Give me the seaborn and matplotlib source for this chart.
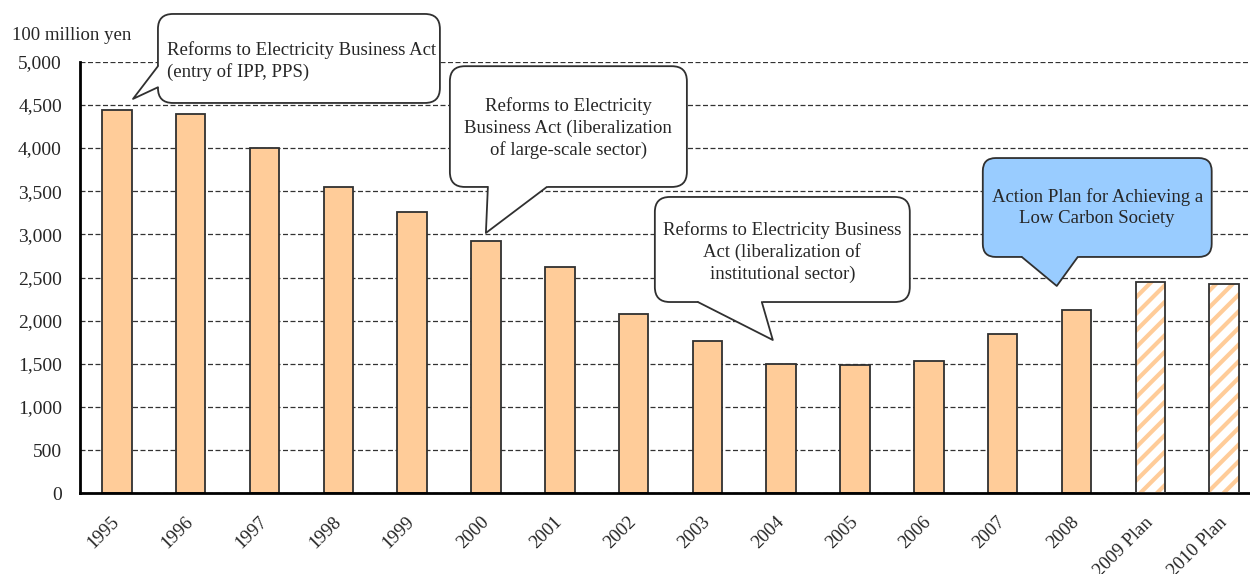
import matplotlib
matplotlib.use("Agg")
import matplotlib.pyplot as plt
import matplotlib.transforms as mtransforms
from matplotlib.patches import FancyBboxPatch, Polygon, Rectangle
from matplotlib.lines import Line2D
import numpy as np
import pandas as pd
import seaborn as sns

# Annual spending, 100 million yen
years = ["1995", "1996", "1997", "1998", "1999", "2000", "2001", "2002",
         "2003", "2004", "2005", "2006", "2007", "2008", "2009 Plan", "2010 Plan"]
spending = [4435, 4395, 4005, 3545, 3260, 2925, 2625, 2080,
            1765, 1500, 1490, 1535, 1850, 2125, 2450, 2420]
is_plan = [False] * 14 + [True, True]

y_ticks = list(range(0, 5001, 500))
unit_label = "100 million yen"

BAR_COLOR = "#FFCC99"
EDGE = "#303030"
FONT = ["Liberation Serif", "DejaVu Serif"]

sns.set_style("white")
plt.rcParams["font.family"] = FONT
plt.rcParams["font.size"] = 13.5
plt.rcParams["hatch.linewidth"] = 3.0

df = pd.DataFrame({"year": years, "value": spending, "plan": is_plan})

fig = plt.figure(figsize=(12.5, 5.74), dpi=100)
W, H = 1250, 574
ax = fig.add_axes([80 / W, (H - 493.3) / H, 1181 / W, 431.6 / H])

sns.barplot(data=df, x="year", y="value", ax=ax, color=BAR_COLOR,
            saturation=1, width=0.4, edgecolor=EDGE, linewidth=1.3, zorder=2)

# planned years: hatched bars with a dark outline
for patch, plan in zip(ax.patches, df["plan"]):
    if plan:
        patch.set_facecolor("white")
        patch.set_edgecolor(BAR_COLOR)
        patch.set_hatch("//")
        patch.set_linewidth(0)
        ax.add_patch(Rectangle(patch.get_xy(), patch.get_width(), patch.get_height(),
                               fill=False, edgecolor=EDGE, linewidth=1.3, zorder=3))

ax.set_xlim(-0.5, len(years) - 0.5)
ax.set_ylim(0, 5000)
ax.set_yticks(y_ticks)
ax.set_yticklabels([f"{v:,}" for v in y_ticks])
ax.set_xlabel("")
ax.set_ylabel("")

ax.yaxis.grid(True, linestyle=(0, (4, 2)), color="#333333", linewidth=0.9)
ax.xaxis.grid(False)
ax.set_axisbelow(True)

for side in ("top", "right"):
    ax.spines[side].set_visible(False)
for side in ("left", "bottom"):
    ax.spines[side].set_color("black")
    ax.spines[side].set_linewidth(2)

ax.tick_params(axis="y", length=0, pad=13, labelsize=14)
ax.tick_params(axis="x", which="major", length=0, pad=19, labelsize=13.5)
ax.set_xticks(np.arange(len(years) + 1) - 0.5, minor=True)
ax.tick_params(axis="x", which="minor", direction="in", length=5, width=1, color="#333333")
for lbl in ax.get_xticklabels():
    lbl.set_rotation(45)
    lbl.set_ha("right")
    lbl.set_va("center")
    lbl.set_rotation_mode("anchor")

fig.text(12 / W, 1 - 35 / H, unit_label, ha="left", va="center", fontsize=13.5)


def callout(box, base, tip, text, text_xy, fc="white", ha="center", radius=15):
    """Rounded speech bubble; box/base/tip given in data coordinates."""
    fig.canvas.draw()
    T = ax.transData
    (x0, y0), (x1, y1) = T.transform([(box[0], box[1]), (box[2], box[3])])
    ident = mtransforms.IdentityTransform()
    bubble = FancyBboxPatch((min(x0, x1), min(y0, y1)), abs(x1 - x0), abs(y1 - y0),
                            boxstyle=f"round,pad=0,rounding_size={radius}",
                            facecolor=fc, edgecolor=EDGE, linewidth=1.3,
                            transform=ident, zorder=5, clip_on=False)
    ax.add_patch(bubble)
    b1, b2 = T.transform(base)
    tp = T.transform(tip)
    centre = np.array([(x0 + x1) / 2, (y0 + y1) / 2])
    inward = centre - (b1 + b2) / 2
    inward = inward / np.hypot(*inward) * 3
    ax.add_patch(Polygon([b1 + inward, b1, tp, b2, b2 + inward], closed=True,
                         facecolor=fc, edgecolor="none", transform=ident,
                         zorder=6, clip_on=False))
    ax.add_line(Line2D([b1[0], tp[0], b2[0]], [b1[1], tp[1], b2[1]],
                       color=EDGE, linewidth=1.3, transform=ident,
                       zorder=7, clip_on=False))
    ax.text(text_xy[0], text_xy[1], text, ha=ha, va="center", multialignment=ha,
            fontsize=13.5, linespacing=1.3, zorder=8, clip_on=False)


callout(box=(0.556, 4522, 4.376, 5553),
        base=[(0.556, 4948), (0.556, 4704)], tip=(0.218, 4569),
        text="Reforms to Electricity Business Act\n(entry of IPP, PPS)",
        text_xy=(0.678, 5010), ha="left")
callout(box=(4.511, 3549, 7.722, 4948),
        base=[(5.026, 3549), (5.825, 3549)], tip=(4.999, 3016),
        text="Reforms to Electricity\nBusiness Act (liberalization\nof large-scale sector)",
        text_xy=(6.116, 4232))
callout(box=(7.288, 2216, 10.742, 3433),
        base=[(7.871, 2216), (8.737, 2216)], tip=(8.886, 1776),
        text="Reforms to Electricity Business\nAct (liberalization of\ninstitutional sector)",
        text_xy=(9.015, 2795))
callout(box=(11.731, 2738, 14.832, 3884),
        base=[(12.259, 2738), (13.018, 2738)], tip=(12.733, 2402),
        text="Action Plan for Achieving a\nLow Carbon Society",
        text_xy=(13.28, 3305), fc="#99CCFF", radius=13)

fig.savefig("out.png", dpi=100)
